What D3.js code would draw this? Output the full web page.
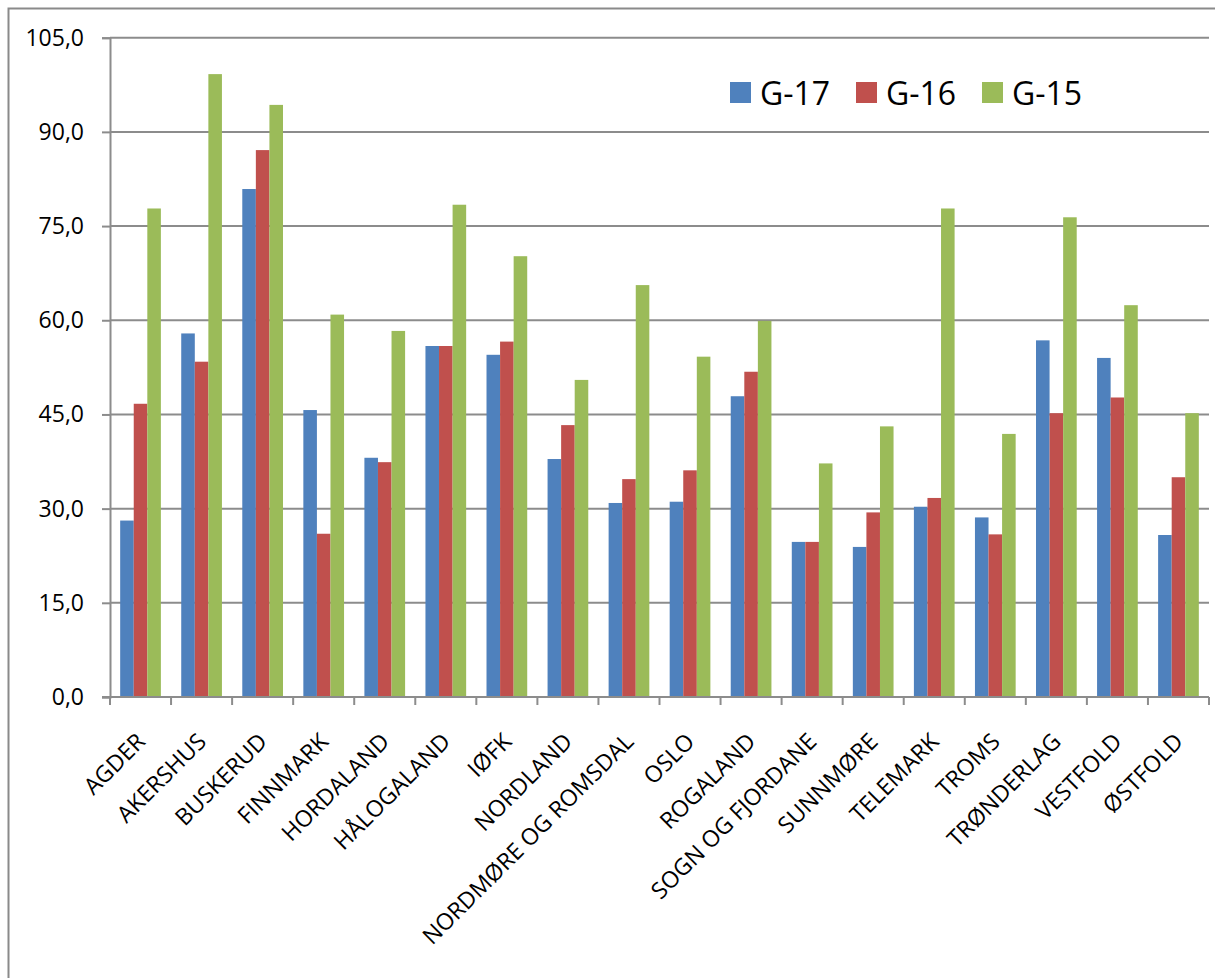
<!DOCTYPE html>
<html>
<head>
<meta charset="utf-8">
<script src="https://cdn.jsdelivr.net/npm/d3@7"></script>
<style>
  html, body { margin: 0; padding: 0; background: #fff; }
  svg { display: block; }
  text { font-family: "Open Sans", "Noto Sans", sans-serif; fill: #000; }
</style>
</head>
<body>
<svg id="chart" width="1215" height="978"></svg>
<script>
const categories = ["AGDER","AKERSHUS","BUSKERUD","FINNMARK","HORDALAND","HÅLOGALAND","IØFK","NORDLAND","NORDMØRE OG ROMSDAL","OSLO","ROGALAND","SOGN OG FJORDANE","SUNNMØRE","TELEMARK","TROMS","TRØNDERLAG","VESTFOLD","ØSTFOLD"];
const seriesNames = ["G-17","G-16","G-15"];
const g17 = [28.1, 57.9, 80.9, 45.7, 38.1, 55.9, 54.5, 37.9, 30.9, 31.1, 47.9, 24.7, 23.9, 30.3, 28.6, 56.8, 54.0, 25.8];
const g16 = [46.7, 53.4, 87.1, 26.0, 37.4, 55.9, 56.6, 43.3, 34.7, 36.1, 51.8, 24.7, 29.4, 31.7, 25.9, 45.2, 47.7, 35.0];
const g15 = [77.8, 99.2, 94.3, 60.9, 58.3, 78.4, 70.2, 50.5, 65.6, 54.2, 59.9, 37.2, 43.1, 77.8, 41.9, 76.4, 62.4, 45.2];
const yTicks = [0, 15, 30, 45, 60, 75, 90, 105];
const colors = ["#4F81BD", "#C0504D", "#9BBB59"];

(function () {
const seriesValues = [g17, g16, g15];
const svg = d3.select("#chart");

// outer chart border (only left/top visible in frame)
svg.append("rect").attr("x", 8.5).attr("y", 8.5).attr("width", 1400).attr("height", 1200)
  .attr("fill", "#fff").attr("stroke", "#8a8a8a").attr("stroke-width", 2);

const pL = 110, pR = 1209, pT = 37.7, pB = 697;
const x = d3.scaleBand().domain(categories).range([pL, pR]).paddingInner(0).paddingOuter(0);
const y = d3.scaleLinear().domain([0, 105]).range([pB, pT]);
const step = x.step();
const bw = step / 4.5;
const xs = d3.scaleBand().domain(seriesNames).range([0.75 * bw, 3.75 * bw]).padding(0);

// gridlines
svg.append("g").selectAll("line").data(yTicks).join("line")
  .attr("x1", pL).attr("x2", pR)
  .attr("y1", d => y(d)).attr("y2", d => y(d))
  .attr("stroke", "#8c8c8c").attr("stroke-width", 2);

// bars
seriesNames.forEach((s, si) => {
  svg.append("g").selectAll("rect").data(categories).join("rect")
    .attr("x", c => x(c) + xs(s))
    .attr("width", xs.bandwidth())
    .attr("y", (c, i) => y(seriesValues[si][i]))
    .attr("height", (c, i) => y(0) - y(seriesValues[si][i]))
    .attr("fill", colors[si]);
});

// y axis
const yAxis = d3.axisLeft(y).tickValues(yTicks).tickSize(8).tickPadding(18)
  .tickFormat(d => d3.format(".1f")(d).replace(".", ","));
const gy = svg.append("g").attr("transform", `translate(${pL},0)`).call(yAxis);
gy.select(".domain").attr("stroke", "#8c8c8c").attr("stroke-width", 2);
gy.selectAll(".tick line").attr("stroke", "#8c8c8c").attr("stroke-width", 2);
gy.selectAll(".tick text").style("font-size", "23px").style("font-family", "'Open Sans', sans-serif").attr("fill", "#000");

// x axis
const boundaries = d3.range(categories.length + 1).map(i => pL + i * step);
svg.append("g").selectAll("line").data(boundaries).join("line")
  .attr("x1", d => d).attr("x2", d => d).attr("y1", pB).attr("y2", pB + 8)
  .attr("stroke", "#8c8c8c").attr("stroke-width", 2);
svg.append("line").attr("x1", pL - 8).attr("x2", pR).attr("y1", pB).attr("y2", pB)
  .attr("stroke", "#8c8c8c").attr("stroke-width", 2);

svg.append("g").selectAll("text").data(categories).join("text")
  .attr("transform", c => `translate(${x(c) + step / 2 + 6},${pB + 46}) rotate(-45)`)
  .attr("text-anchor", "end")
  .style("font-size", "23px")
  .text(c => c);

// legend
const legendX = [730, 856, 982];
seriesNames.forEach((s, i) => {
  svg.append("rect").attr("x", legendX[i]).attr("y", 82).attr("width", 21).attr("height", 21).attr("fill", colors[i]);
  svg.append("text").attr("x", legendX[i] + 30).attr("y", 104.5).style("font-size", "32px").text(s);
});
})();
</script>
</body>
</html>
